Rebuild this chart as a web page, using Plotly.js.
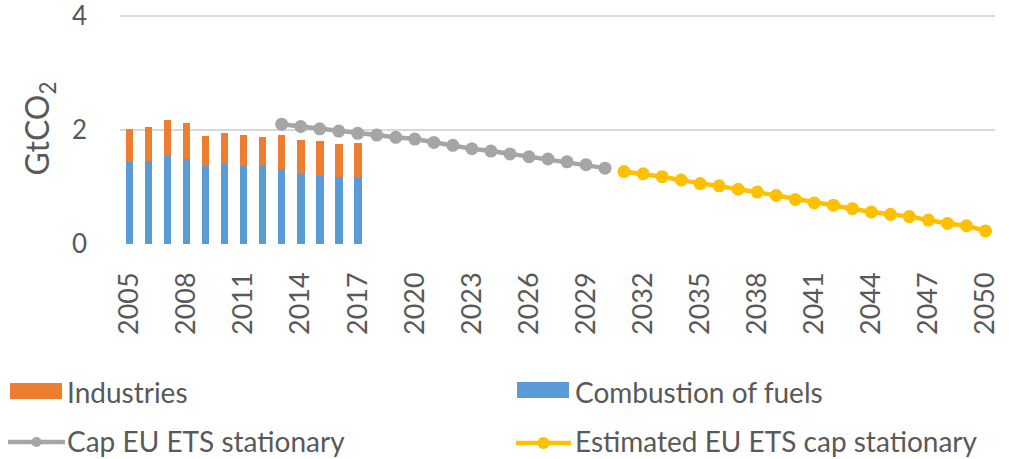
<!DOCTYPE html>
<html>
<head>
<meta charset="utf-8">
<script src="https://cdn.plot.ly/plotly-3.0.1.min.js"></script>
<style>
  html, body { margin: 0; padding: 0; background: #ffffff; }
  #chart { width: 1009px; height: 459px; }
</style>
</head>
<body>
<div id="chart"></div>
<script>
// Category axis: every year from 2005 to 2050
const allYears = [
  "2005","2006","2007","2008","2009","2010","2011","2012","2013","2014",
  "2015","2016","2017","2018","2019","2020","2021","2022","2023","2024",
  "2025","2026","2027","2028","2029","2030","2031","2032","2033","2034",
  "2035","2036","2037","2038","2039","2040","2041","2042","2043","2044",
  "2045","2046","2047","2048","2049","2050"
];
const tickYears = ["2005","2008","2011","2014","2017","2020","2023","2026","2029",
                   "2032","2035","2038","2041","2044","2047","2050"];
const yTicks = [0, 2, 4];

// Verified emissions, GtCO2
const emissionYears = ["2005","2006","2007","2008","2009","2010","2011","2012","2013",
                       "2014","2015","2016","2017"];
const combustion = [1.44, 1.46, 1.55, 1.49, 1.37, 1.41, 1.37, 1.36, 1.32, 1.22, 1.21, 1.17, 1.17];
const industries = [0.58, 0.59, 0.62, 0.63, 0.52, 0.53, 0.54, 0.52, 0.59, 0.60, 0.60, 0.58, 0.60];

// Cap for stationary installations, GtCO2
const capYears = ["2013","2014","2015","2016","2017","2018","2019","2020","2021",
                  "2022","2023","2024","2025","2026","2027","2028","2029","2030"];
const capValues = [2.10, 2.06, 2.02, 1.98, 1.94, 1.91, 1.87, 1.84, 1.78,
                   1.73, 1.67, 1.63, 1.58, 1.53, 1.49, 1.44, 1.39, 1.33];

// Estimated cap beyond 2030, GtCO2
const estYears = ["2031","2032","2033","2034","2035","2036","2037","2038","2039","2040",
                  "2041","2042","2043","2044","2045","2046","2047","2048","2049","2050"];
const estValues = [1.27, 1.23, 1.18, 1.12, 1.06, 1.02, 0.96, 0.91, 0.85, 0.78,
                   0.72, 0.68, 0.62, 0.56, 0.52, 0.48, 0.42, 0.36, 0.32, 0.23];

const seriesNames = ["Industries", "Combustion of fuels", "Cap EU ETS stationary",
                     "Estimated EU ETS cap stationary"];
const seriesColors = ["#ed7d31", "#5b9bd5", "#a5a5a5", "#ffc000"];

const FONT = "Lato, 'Open Sans', sans-serif";
const TEXT = "#595959";

const W = 1009, H = 459;
const M = { l: 120, r: 14, t: 13, b: 215 };
const PW = W - M.l - M.r, PH = H - M.t - M.b;
// pixel -> paper helpers for the legend block below the plot
const px = v => (v - M.l) / PW;
const py = v => (H - M.b - v) / PH;

const traces = [
  { type: "bar", name: seriesNames[1], x: emissionYears, y: combustion,
    marker: { color: seriesColors[1] }, width: 0.4, showlegend: false },
  { type: "bar", name: seriesNames[0], x: emissionYears, y: industries,
    marker: { color: seriesColors[0] }, width: 0.4, showlegend: false },
  { type: "scatter", mode: "lines+markers", name: seriesNames[2], x: capYears, y: capValues,
    line: { color: seriesColors[2], width: 4.5 }, marker: { color: seriesColors[2], size: 13 },
    showlegend: false },
  { type: "scatter", mode: "lines+markers", name: seriesNames[3], x: estYears, y: estValues,
    line: { color: seriesColors[3], width: 4.5 }, marker: { color: seriesColors[3], size: 13 },
    showlegend: false }
];

// Legend: two columns, bars on the first row and lines on the second
const legendSlots = [
  { kind: "rect", x0: 10, x1: 62, y: 391, tx: 66, ty: 392 },
  { kind: "rect", x0: 517, x1: 569, y: 390, tx: 574, ty: 392 },
  { kind: "line", x0: 8, x1: 65, y: 442, tx: 66, ty: 441 },
  { kind: "line", x0: 516, x1: 571, y: 443, tx: 574, ty: 441 }
];
const dotSizes = [0, 0, 10, 12];
const shapes = [];
const annotations = [];
legendSlots.forEach((s, i) => {
  const c = seriesColors[i];
  if (s.kind === "rect") {
    shapes.push({ type: "rect", xref: "paper", yref: "paper",
      x0: px(s.x0), x1: px(s.x1), y0: py(s.y + 8), y1: py(s.y - 8),
      fillcolor: c, line: { width: 0 } });
  } else {
    shapes.push({ type: "line", xref: "paper", yref: "paper",
      x0: px(s.x0), x1: px(s.x1), y0: py(s.y), y1: py(s.y),
      line: { color: c, width: 4.5 } });
    const cx = (s.x0 + s.x1) / 2, r = dotSizes[i] / 2;
    shapes.push({ type: "circle", xref: "paper", yref: "paper",
      x0: px(cx - r), x1: px(cx + r), y0: py(s.y + r), y1: py(s.y - r),
      fillcolor: c, line: { width: 0 } });
  }
  annotations.push({ xref: "paper", yref: "paper", x: px(s.tx), y: py(s.ty),
    xanchor: "left", yanchor: "middle", showarrow: false, borderpad: 0,
    text: seriesNames[i],
    font: { family: FONT, size: 28, color: TEXT } });
});

const layout = {
  width: W, height: H,
  margin: M,
  paper_bgcolor: "#ffffff", plot_bgcolor: "#ffffff",
  barmode: "stack",
  showlegend: false,
  font: { family: FONT, color: TEXT },
  xaxis: {
    type: "category", categoryorder: "array", categoryarray: allYears,
    range: [-0.5, 45.5], tickmode: "array", tickvals: tickYears, ticktext: tickYears,
    tickangle: -90, ticks: "", showgrid: false, zeroline: false, showline: false,
    ticklabelstandoff: 22, ticklabeloverflow: "allow",
    tickfont: { family: FONT, size: 27, color: TEXT }
  },
  yaxis: {
    range: [0, 4.05], tickmode: "array", tickvals: yTicks, ticks: "",
    showgrid: true, gridcolor: "#d9d9d9", gridwidth: 2,
    zeroline: false, showline: false, ticklabelstandoff: 32, ticklabeloverflow: "allow",
    tickfont: { family: FONT, size: 26, color: TEXT },
    title: { text: "GtCO<sub>2</sub>", standoff: 12,
             font: { family: FONT, size: 32, color: TEXT } }
  },
  shapes: shapes,
  annotations: annotations
};

Plotly.newPlot("chart", traces, layout, { displayModeBar: false, staticPlot: true });
</script>
</body>
</html>
